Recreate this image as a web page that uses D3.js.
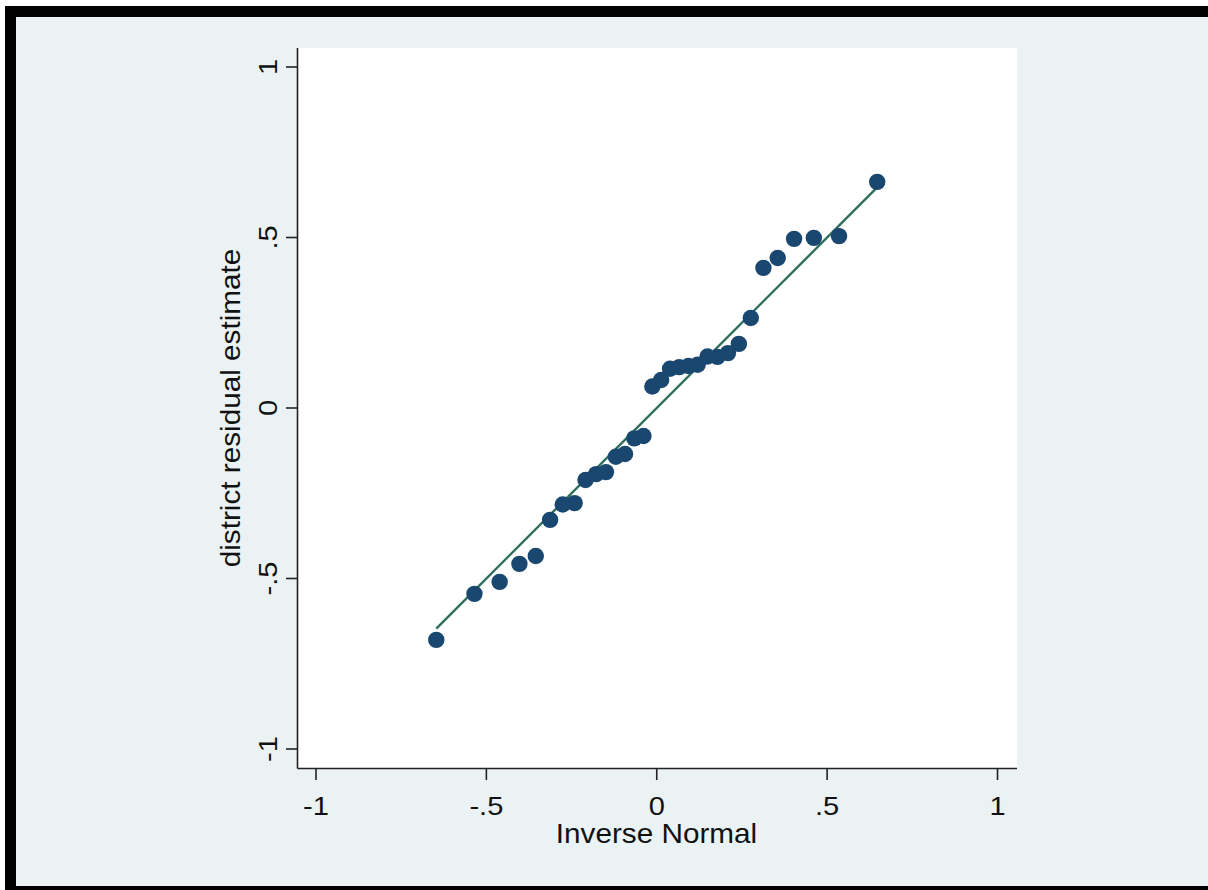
<!DOCTYPE html>
<html>
<head>
<meta charset="utf-8">
<script src="https://cdn.jsdelivr.net/npm/d3@7/dist/d3.min.js"></script>
<style>
  html, body { margin: 0; padding: 0; background: #ffffff; }
  svg { display: block; }
  text { font-family: "Liberation Sans", Arial, sans-serif; fill: #111; }
</style>
</head>
<body>
<svg id="chart" width="1208" height="890"></svg>
<script>
// Inverse normal quantiles (x) and sorted district residual estimates (y)
const inverseNormal = [
  -0.647, -0.535, -0.461, -0.403, -0.355, -0.313, -0.276, -0.241,
  -0.209, -0.178, -0.149, -0.120, -0.093, -0.066, -0.039, -0.013,
   0.013,  0.039,  0.066,  0.093,  0.120,  0.149,  0.178,  0.209,
   0.241,  0.276,  0.313,  0.355,  0.403,  0.461,  0.535,  0.647
];
const residualEstimate = [
  -0.680, -0.545, -0.510, -0.457, -0.434, -0.328, -0.283, -0.279,
  -0.211, -0.194, -0.188, -0.143, -0.135, -0.089, -0.082,  0.063,
   0.082,  0.115,  0.120,  0.123,  0.127,  0.151,  0.150,  0.161,
   0.188,  0.264,  0.411,  0.440,  0.496,  0.499,  0.504,  0.663
];
const xTicks = [-1, -0.5, 0, 0.5, 1];
const yTicks = [-1, -0.5, 0, 0.5, 1];
const tickLabel = v => v === 0 ? "0" : (v < 0 ? "-" : "") + String(Math.abs(v)).replace(/^0(?=\.)/, "");
const xTitle = "Inverse Normal";
const yTitle = "district residual estimate";

// Slightly wide lettering: stretch glyphs along the text direction
const tickStretch = "scale(1.14,1)";
const titleStretch = "scale(1.1,1)";

const svg = d3.select("#chart");

// Graph frame and background
svg.append("rect").attr("x", 5).attr("y", 6).attr("width", 1203).attr("height", 884).attr("fill", "#000");
svg.append("rect").attr("x", 16).attr("y", 17).attr("width", 1192).attr("height", 869).attr("fill", "#eaf2f3");

// Plot region
const region = { left: 298, right: 1017, top: 48, bottom: 768 };
svg.append("rect")
  .attr("x", region.left).attr("y", region.top)
  .attr("width", region.right - region.left).attr("height", region.bottom - region.top)
  .attr("fill", "#ffffff");

const x = d3.scaleLinear().domain([-1, 1]).range([316, 997.5]);
const y = d3.scaleLinear().domain([-1, 1]).range([749, 67]);

// Axis lines
svg.append("line")
  .attr("x1", region.left - 0.5).attr("x2", region.left - 0.5)
  .attr("y1", region.top).attr("y2", region.bottom + 0.5)
  .attr("stroke", "#222").attr("stroke-width", 1.6);
svg.append("line")
  .attr("x1", region.left - 0.5).attr("x2", region.right)
  .attr("y1", region.bottom + 0.5).attr("y2", region.bottom + 0.5)
  .attr("stroke", "#222").attr("stroke-width", 1.6);

// X ticks and labels
const xg = svg.append("g");
xg.selectAll("line").data(xTicks).join("line")
  .attr("x1", d => x(d)).attr("x2", d => x(d))
  .attr("y1", region.bottom + 0.5).attr("y2", region.bottom + 12)
  .attr("stroke", "#222").attr("stroke-width", 1.6);
xg.selectAll("text").data(xTicks).join("text")
  .attr("transform", d => `translate(${x(d)},815) ${tickStretch}`)
  .attr("text-anchor", "middle")
  .attr("font-size", 25.5)
  .text(tickLabel);

// Y ticks and labels
const yg = svg.append("g");
yg.selectAll("line").data(yTicks).join("line")
  .attr("x1", region.left - 12).attr("x2", region.left - 0.5)
  .attr("y1", d => y(d)).attr("y2", d => y(d))
  .attr("stroke", "#222").attr("stroke-width", 1.6);
yg.selectAll("text").data(yTicks).join("text")
  .attr("transform", d => `translate(277,${y(d)}) rotate(-90) ${tickStretch}`)
  .attr("text-anchor", "middle")
  .attr("font-size", 25.5)
  .text(tickLabel);

// Axis titles
svg.append("text")
  .attr("transform", `translate(${(region.left + region.right) / 2 - 1},843) ${titleStretch}`)
  .attr("text-anchor", "middle")
  .attr("font-size", 27)
  .text(xTitle);
svg.append("text")
  .attr("transform", `translate(240,${(region.top + region.bottom) / 2}) rotate(-90) ${titleStretch}`)
  .attr("text-anchor", "middle")
  .attr("font-size", 27)
  .text(yTitle);

// Reference line y = x across the range of the quantiles
const xMin = d3.min(inverseNormal), xMax = d3.max(inverseNormal);
svg.append("line")
  .attr("x1", x(xMin)).attr("y1", y(xMin))
  .attr("x2", x(xMax)).attr("y2", y(xMax))
  .attr("stroke", "#2f6e5d").attr("stroke-width", 2.4);

// Quantile points
svg.append("g").selectAll("circle")
  .data(inverseNormal.map((v, i) => [v, residualEstimate[i]]))
  .join("circle")
  .attr("cx", d => x(d[0])).attr("cy", d => y(d[1]))
  .attr("r", 8.2)
  .attr("fill", "#1a476f");
</script>
</body>
</html>
